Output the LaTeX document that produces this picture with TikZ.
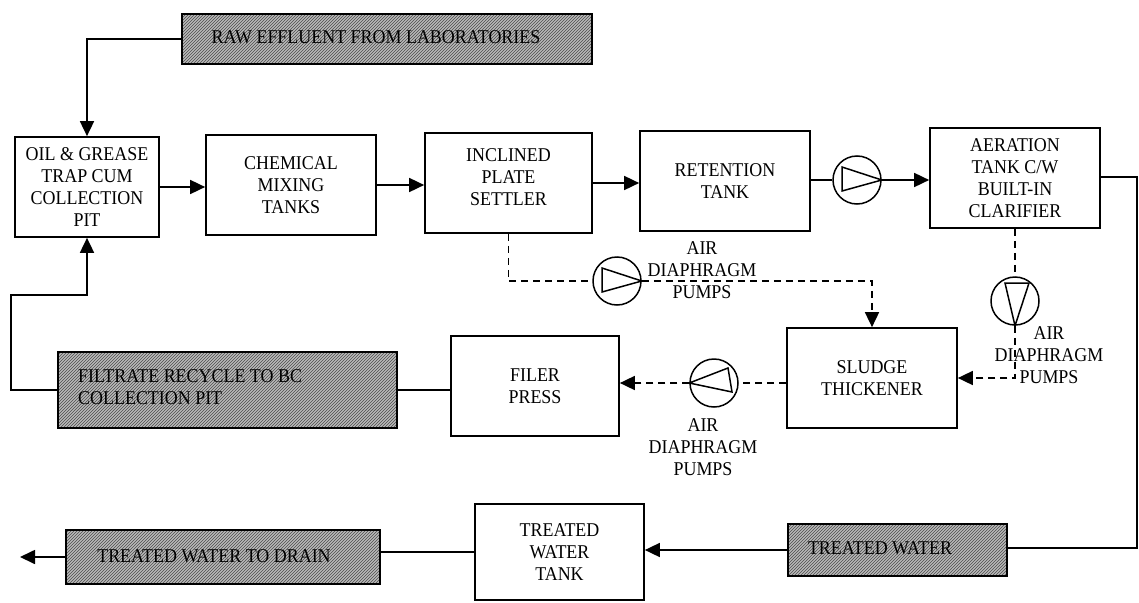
\documentclass[tikz,border=0pt]{standalone}
\usepackage{fontspec}
\setmainfont{Liberation Serif}[FakeStretch=0.92]
\usetikzlibrary{arrows.meta,patterns,calc}
\begin{document}
\begin{tikzpicture}[x=1pt,y=-1pt,
 every node/.style={font=\fontsize{19.5}{22}\selectfont},
 box/.style={draw, line width=1.7pt, align=center, inner sep=0pt},
 hatch/.style={draw, line width=1.7pt, preaction={fill=gray!55}, pattern=north east lines, pattern color=black!70, inner sep=0pt},
 pump/.style={draw, circle, line width=1.5pt, minimum size=48pt, inner sep=0pt},
 flow/.style={line width=1.7pt},
 arr/.style={flow, -{Triangle[length=15pt,width=14pt]}},
 dflow/.style={flow, dash pattern=on 7pt off 5pt},
 darr/.style={dflow, -{Triangle[length=15pt,width=14pt]}},
 lbl/.style={align=center, inner sep=0pt},
 tri/.style={line width=1.5pt, line join=miter},
]
\useasboundingbox[fill=white] (0,0) rectangle (1139,602);

% process boxes
\node[box, minimum width=144pt, minimum height=100pt] (oil) at (87,187) {OIL \& GREASE\\TRAP CUM\\COLLECTION\\PIT};
\node[box, minimum width=170pt, minimum height=100pt] (chem) at (291,185) {CHEMICAL\\MIXING\\TANKS};
\node[box, minimum width=167pt, minimum height=100pt] (incl) at (508.5,183) {};
\node[lbl] (inclt) at (508.5,177) {INCLINED\\PLATE\\SETTLER};
\node[box, minimum width=170pt, minimum height=100pt] (ret) at (725,181) {RETENTION\\TANK};
\node[box, minimum width=170pt, minimum height=100pt] (aer) at (1015,178) {AERATION\\TANK C/W\\BUILT-IN\\CLARIFIER};
\node[box, minimum width=170pt, minimum height=100pt] (sludge) at (872,378) {SLUDGE\\THICKENER};
\node[box, minimum width=168pt, minimum height=100pt] (filer) at (535,386) {FILER\\PRESS};
\node[box, minimum width=169pt, minimum height=96pt] (tank) at (559.5,552) {TREATED\\WATER\\TANK};

% hatched boxes
\node[hatch, minimum width=410pt, minimum height=50pt] (raw) at (387,39) {};
\node[lbl] (rawt) at (376,37) {RAW EFFLUENT FROM LABORATORIES};
\node[hatch, minimum width=339pt, minimum height=76pt] (filt) at (227.5,390) {};
\node[lbl, align=left, anchor=west] (filtt) at (78,387) {FILTRATE RECYCLE TO BC\\COLLECTION PIT};
\node[hatch, minimum width=314pt, minimum height=54pt] (drain) at (223,557) {};
\node[lbl] (draint) at (214,556) {TREATED WATER TO DRAIN};
\node[hatch, minimum width=219pt, minimum height=52pt] (tw) at (897.5,550) {};
\node[lbl] (twt) at (880,548) {TREATED WATER};

% pumps
\node[pump] (p1) at (857,180) {};
\node[pump] (p2) at (617,281) {};
\node[pump] (p3) at (1015,301) {};
\node[pump] (p4) at (714,383) {};
\draw[tri] ($(p1)+(-15,-13)$) -- ($(p1)+(-15,11)$) -- (p1.east) -- cycle;
\draw[tri] ($(p2)+(-15,-13)$) -- ($(p2)+(-15,11)$) -- (p2.east) -- cycle;
\draw[tri] ($(p3)+(-10,-18)$) -- ($(p3)+(14,-18)$) -- (p3.south) -- cycle;
\draw[tri] ($(p4)+(14,-15)$) -- ($(p4)+(18,9)$) -- (p4.west) -- cycle;

% pump labels
\node[lbl] (l2) at (702,270) {AIR\\DIAPHRAGM\\PUMPS};
\node[lbl] (l3) at (1049,355) {AIR\\DIAPHRAGM\\PUMPS};
\node[lbl] (l4) at (703,447) {AIR\\DIAPHRAGM\\PUMPS};

% main flow
\coordinate (c1) at (87,39);
\draw[arr] (raw.west) -- (c1) -- (oil.north);
\draw[arr] (oil.east) -- (oil.east -| chem.west);
\draw[arr] (chem.east) -- (chem.east -| incl.west);
\draw[arr] (incl.east) -- (incl.east -| ret.west);
\draw[flow] (ret.east |- p1) -- (p1.west);
\draw[arr] (p1.east) -- (p1.east -| aer.west);
\coordinate (c2) at (1137,177);
\coordinate (c3) at (1137,548);
\draw[flow] (aer.east |- c2) -- (c2) -- (c3) -- (c3 -| tw.east);
\draw[arr] (tw.west) -- (tw.west -| tank.east);
\draw[flow] (tank.west) -- (tank.west -| drain.east);
\coordinate (c4) at (20,557);
\draw[arr] (drain.west) -- (c4);
\draw[flow] (filer.west |- filt.east) -- (filt.east);
\coordinate (c5) at (11,390);
\coordinate (c6) at (11,295);
\coordinate (c7) at (87,295);
\draw[arr] (filt.west) -- (c5) -- (c6) -- (c7) -- (oil.south);

% sludge flow (dashed)
\draw[dflow] (incl.south) |- (p2.west);
\draw[darr] (p2.east) -| (sludge.north);
\draw[dflow] (aer.south) -- (p3.north);
\draw[darr] (p3.south) |- (sludge.east);
\draw[dflow] (sludge.west |- p4) -- (p4.east);
\draw[darr] (p4.west) -- (p4.west -| filer.east);
\end{tikzpicture}
\end{document}
